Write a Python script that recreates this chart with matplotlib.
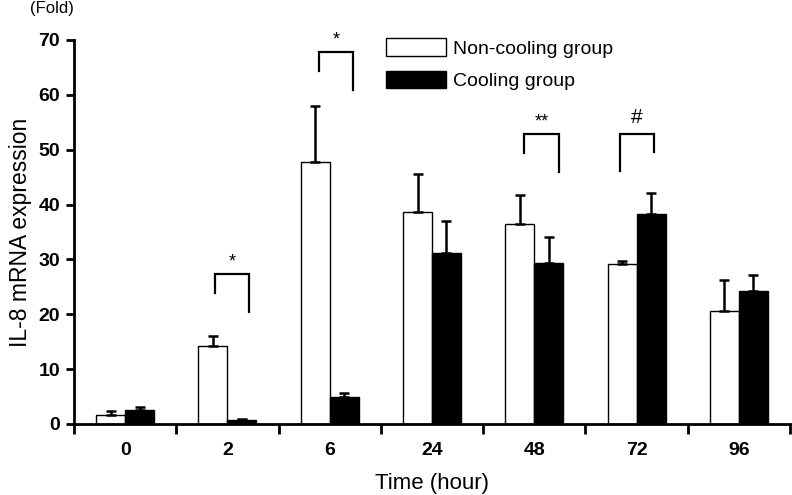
import matplotlib
matplotlib.use('Agg')
import matplotlib.pyplot as plt
import numpy as np

plt.rcParams['font.family'] = ['Liberation Sans', 'DejaVu Sans']

# Data
TIMES = ['0', '2', '6', '24', '48', '72', '96']
NON_COOLING = [1.6, 14.3, 47.8, 38.6, 36.5, 29.1, 20.6]
NON_COOLING_ERR = [0.7, 1.7, 10.2, 7.0, 5.3, 0.6, 5.6]
COOLING = [2.6, 0.8, 4.9, 31.2, 29.3, 38.3, 24.3]
COOLING_ERR = [0.5, 0.15, 0.8, 5.8, 4.8, 3.8, 2.9]

# significance brackets: (category, label, left offset, right offset, top, left end, right end)
BRACKETS = [
    (1, '*', -0.12, 0.21, 27.4, 23.9, 20.4),
    (2, '*', -0.105, 0.227, 67.8, 64.3, 60.8),
    (4, '**', -0.10, 0.24, 52.9, 49.4, 45.9),
    (5, '#', -0.163, 0.17, 52.9, 46.1, 49.6),
]

BAR_W = 0.283

fig = plt.figure(figsize=(7.92, 4.95), dpi=100)
ax = fig.add_axes([74 / 792, 1 - 424 / 495, 716 / 792, 384 / 495])

x = np.arange(len(TIMES))
ax.bar(x - BAR_W / 2, NON_COOLING, BAR_W, color='white', edgecolor='black',
       linewidth=1.0, label='Non-cooling group', zorder=2)
ax.bar(x + BAR_W / 2, COOLING, BAR_W, color='black', edgecolor='black',
       linewidth=1.0, label='Cooling group', zorder=2)

err_kw = dict(fmt='none', ecolor='black', elinewidth=1.8, capsize=3.3, capthick=1.8, zorder=3)
ax.errorbar(x - BAR_W / 2, NON_COOLING, yerr=[np.zeros(len(x)), NON_COOLING_ERR], **err_kw)
ax.errorbar(x + BAR_W / 2, COOLING, yerr=[np.zeros(len(x)), COOLING_ERR], **err_kw)

for cat, label, dl, dr, top, yl, yr in BRACKETS:
    xl, xr = cat + dl, cat + dr
    ax.plot([xl, xl, xr, xr], [yl, top, top, yr], color='black', lw=1.6,
            solid_joinstyle='miter', clip_on=False)
    if label == '#':
        ax.text((xl + xr) / 2, top + 1.3, label, ha='center', va='bottom', fontsize=15)
    else:
        ax.text((xl + xr) / 2, top + 0.6, label, ha='center', va='bottom', fontsize=13)

ax.set_xlim(-0.5, len(TIMES) - 0.5)
ax.set_ylim(0, 70)
ax.set_yticks(range(0, 71, 10))
ax.set_xticks(x)
ax.set_xticklabels(TIMES, fontweight='bold', fontsize=14)
ax.set_xticks(np.arange(len(TIMES) + 1) - 0.5, minor=True)
ax.tick_params(axis='x', which='major', length=0, pad=13)
ax.tick_params(axis='x', which='minor', length=7, width=2, direction='out')
ax.tick_params(axis='y', length=6, width=2, direction='out', pad=4)
for lbl in ax.get_yticklabels():
    lbl.set_fontweight('bold')
    lbl.set_fontsize(14)

for side in ['top', 'right']:
    ax.spines[side].set_visible(False)
for side in ['left', 'bottom']:
    ax.spines[side].set_linewidth(2)

ax.set_xlabel('Time (hour)', fontsize=16, labelpad=10)
ax.set_ylabel('IL-8 mRNA expression', fontsize=16.5, labelpad=5)
fig.text(30 / 792, 1 - 9 / 495, '(Fold)', fontsize=12, va='center', ha='left')

ax.legend(loc='upper left', bbox_to_anchor=(386 / 792, 1 - 38 / 495),
          bbox_transform=fig.transFigure, frameon=False, fontsize=14,
          handlelength=3.1, handleheight=1.03, handletextpad=0.36,
          labelspacing=0.67, borderpad=0, borderaxespad=0)

fig.savefig('out.png', dpi=100)
